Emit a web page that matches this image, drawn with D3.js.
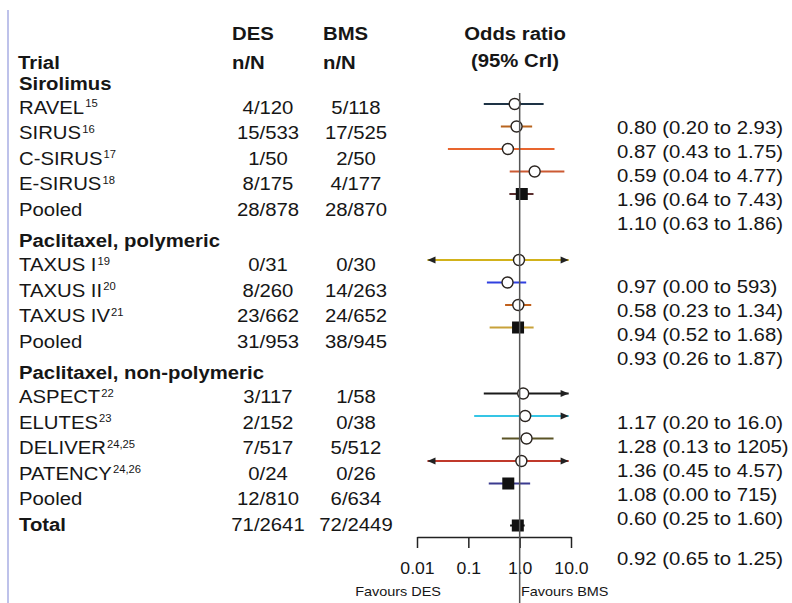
<!DOCTYPE html>
<html>
<head>
<meta charset="utf-8">
<script src="https://cdn.jsdelivr.net/npm/d3@7"></script>
<style>
  html, body { margin: 0; padding: 0; background: #fff; }
  svg { display: block; }
  text { font-family: "Liberation Sans", Arial, Helvetica, sans-serif; fill: #161616; }
</style>
</head>
<body>
<svg id="chart" width="792" height="603"></svg>
<script>
// ---- Data -----------------------------------------------------------------
const groups = ["Sirolimus", "Paclitaxel, polymeric", "Paclitaxel, non-polymeric"];
const trials = ["RAVEL", "SIRUS", "C-SIRUS", "E-SIRUS", "Pooled",
                "TAXUS I", "TAXUS II", "TAXUS IV", "Pooled",
                "ASPECT", "ELUTES", "DELIVER", "PATENCY", "Pooled",
                "Total"];
const refs = ["15", "16", "17", "18", "",
              "19", "20", "21", "",
              "22", "23", "24,25", "24,26", "",
              ""];
const trialGroup = [0, 0, 0, 0, 0, 1, 1, 1, 1, 2, 2, 2, 2, 2, -1];
const pooledRow  = [false, false, false, false, true, false, false, false, true,
                    false, false, false, false, true, true];

const desEvents = [4, 15, 1, 8, 28, 0, 8, 23, 31, 3, 2, 7, 0, 12, 71];
const desTotal  = [120, 533, 50, 175, 878, 31, 260, 662, 953, 117, 152, 517, 24, 810, 2641];
const bmsEvents = [5, 17, 2, 4, 28, 0, 14, 24, 38, 1, 0, 5, 0, 6, 72];
const bmsTotal  = [118, 525, 50, 177, 870, 30, 263, 652, 945, 58, 38, 512, 26, 634, 2449];

const oddsRatio = [0.80, 0.87, 0.59, 1.96, 1.10, 0.97, 0.58, 0.94, 0.93, 1.17, 1.28, 1.36, 1.08, 0.60, 0.92];
const ciLow     = [0.20, 0.43, 0.04, 0.64, 0.63, 0.00, 0.23, 0.52, 0.26, 0.20, 0.13, 0.45, 0.00, 0.25, 0.65];
const ciHigh    = [2.93, 1.75, 4.77, 7.43, 1.86, 593, 1.34, 1.68, 1.87, 16.0, 1205, 4.57, 715, 1.60, 1.25];

const tickValues = [0.01, 0.1, 1, 10];
const tickLabels = ["0.01", "0.1", "1.0", "10.0"];

// ---- Styles ---------------------------------------------------------------
const ciColours = ["#1e3345", "#b8641e", "#e8652e", "#cc5a33", "#5a2e2e",
                   "#d2b21a", "#3040e0", "#c0601c", "#c8a23a",
                   "#1a1a1a", "#35c5e5", "#5b5426", "#c0392b", "#3b3b8f",
                   "#111111"];
const FS = 19;          // body text size
const SX = 1.07;        // horizontal stretch of the type

const svg = d3.select("#chart");

// frame lines
const grad = svg.append("defs").append("linearGradient")
  .attr("id", "topLine").attr("x1", "0%").attr("x2", "100%");
[["0%", "#4a66d6"], ["45%", "#6a48b8"], ["70%", "#a03c8c"], ["88%", "#e0382e"], ["100%", "#f08a30"]]
  .forEach(([o, c]) => grad.append("stop").attr("offset", o).attr("stop-color", c));
svg.append("line").attr("x1", 8).attr("x2", 792).attr("y1", 10).attr("y2", 10)
  .attr("stroke", "url(#topLine)").attr("stroke-width", 2);
svg.append("line").attr("x1", 8).attr("x2", 8).attr("y1", 10).attr("y2", 603)
  .attr("stroke", "#a9aee3").attr("stroke-width", 1.5);

// text helper: stretched glyphs, positioned by centre line
function label(x, y, str, opts = {}) {
  const t = svg.append("text")
    .attr("transform", `translate(${x},${y}) scale(${opts.sx || SX},1)`)
    .attr("dominant-baseline", "central")
    .attr("text-anchor", opts.anchor || "start")
    .style("font-size", (opts.size || FS) + "px")
    .style("font-weight", opts.bold ? "bold" : "normal")
    .text(str);
  return t;
}

// ---- Row layout -----------------------------------------------------------
const tableY = [], markY = [], estY = [], headerY = [];
let ty, my, ly, prev = null;
trials.forEach((t, i) => {
  const g = trialGroup[i];
  if (i === 0) {
    headerY[g] = 83; ty = 107; my = 104; ly = 127;
  } else if (g !== prev) {
    if (g >= 0) {
      headerY[g] = ty + 31.5; ty = headerY[g] + 24; my += 66; ly += 63.5;
    } else {
      ty += 26; my += 42; ly += 40;
    }
  } else {
    ty += 25.5; my += 22.5; ly += 24;
  }
  tableY.push(ty); markY.push(my); estY.push(ly);
  prev = g;
});

// ---- Column headings ------------------------------------------------------
const desX = 268, bmsX = 356;
label(18, 62, "Trial", { bold: true });
label(232, 33, "DES", { bold: true });
label(232, 62, "n/N", { bold: true });
label(323, 33, "BMS", { bold: true });
label(323, 62, "n/N", { bold: true });
label(515, 33, "Odds ratio", { bold: true, anchor: "middle" });
label(515, 60, "(95% CrI)", { bold: true, anchor: "middle" });

groups.forEach((g, i) => label(19, headerY[i], g, { bold: true }));

// ---- Table rows -----------------------------------------------------------
trials.forEach((t, i) => {
  const txt = label(19, tableY[i], t, { bold: t === "Total" });
  if (refs[i]) {
    txt.append("tspan").attr("dx", 1).attr("dy", -3.5)
      .style("font-size", "10.5px").text(refs[i]);
  }
  label(desX, tableY[i], `${desEvents[i]}/${desTotal[i]}`, { anchor: "middle" });
  label(bmsX, tableY[i], `${bmsEvents[i]}/${bmsTotal[i]}`, { anchor: "middle" });
});

// ---- Forest panel ---------------------------------------------------------
const x = d3.scaleLog().domain([0.01, 10]).range([417, 571]);
const clipLo = 0.016, clipHi = 9;
const fmt = v => v >= 100 ? d3.format("d")(v) : v >= 10 ? v.toFixed(1) : v.toFixed(2);

const forest = svg.append("g");
trials.forEach((t, i) => {
  const y = markY[i];
  const lo = Math.max(ciLow[i], clipLo), hi = Math.min(ciHigh[i], clipHi);
  const x0 = x(lo), x1 = x(hi);
  forest.append("line").attr("x1", x0).attr("x2", x1).attr("y1", y).attr("y2", y)
    .attr("stroke", ciColours[i]).attr("stroke-width", 2);
  if (ciLow[i] < clipLo) {
    forest.append("path").attr("d", `M${x0},${y} l8,-3.5 l0,7 Z`).attr("fill", "#222");
  }
  if (ciHigh[i] > clipHi) {
    forest.append("path").attr("d", `M${x1},${y} l-8,-3.5 l0,7 Z`).attr("fill", "#222");
  }
  const cx = x(oddsRatio[i]);
  if (pooledRow[i]) {
    forest.append("rect").attr("x", cx - 6).attr("y", y - 6).attr("width", 12).attr("height", 12)
      .attr("fill", "#111");
  } else {
    forest.append("circle").attr("cx", cx).attr("cy", y).attr("r", 5.5)
      .attr("fill", "#fff").attr("stroke", "#2a2420").attr("stroke-width", 1.4);
  }
  label(617, estY[i], `${fmt(oddsRatio[i])} (${fmt(ciLow[i])} to ${fmt(ciHigh[i])})`);
});

// axis
const axisY = 537;
const axis = svg.append("g").attr("transform", `translate(0,${axisY})`)
  .call(d3.axisBottom(x).tickValues(tickValues)
    .tickFormat((d, i) => tickLabels[i]).tickSize(11).tickSizeOuter(0).tickPadding(14));
axis.select(".domain").attr("stroke", "#222").attr("stroke-width", 1.5);
axis.selectAll(".tick line").attr("stroke", "#222").attr("stroke-width", 1.5);
axis.selectAll(".tick text")
  .style("font-family", '"Liberation Sans", Arial, sans-serif')
  .style("font-size", "16.5px").attr("fill", "#161616")
  .attr("transform", function () {
    const ty0 = +d3.select(this).attr("y");
    return `translate(0,${ty0}) scale(${SX},1) translate(0,${-ty0})`;
  });

// line of no effect
svg.append("line").attr("x1", x(1)).attr("x2", x(1)).attr("y1", 93).attr("y2", 603)
  .attr("stroke", "#555").attr("stroke-width", 1.5);

label(441, 591, "Favours DES", { anchor: "end", size: 13.5 });
label(521, 591, "Favours BMS", { size: 13.5 });
</script>
</body>
</html>
